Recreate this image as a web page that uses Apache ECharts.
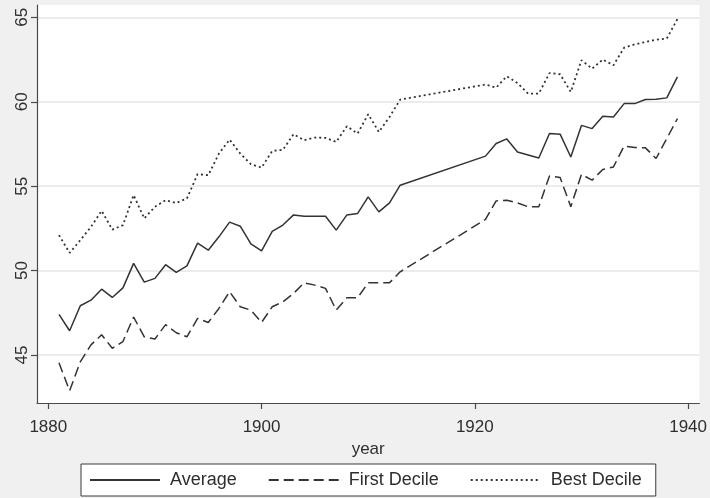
<!DOCTYPE html>
<html>
<head>
<meta charset="utf-8">
<script src="https://cdn.jsdelivr.net/npm/echarts@6/dist/echarts.min.js"></script>
<style>
  html, body { margin: 0; padding: 0; background: #f0f0f0; }
  #chart { width: 710px; height: 498px; }
</style>
</head>
<body>
<div id="chart"></div>
<script>
// Survey years (no observations 1914-1920)
const years = [
  1881, 1882, 1883, 1884, 1885, 1886, 1887, 1888, 1889, 1890,
  1891, 1892, 1893, 1894, 1895, 1896, 1897, 1898, 1899, 1900,
  1901, 1902, 1903, 1904, 1905, 1906, 1907, 1908, 1909, 1910,
  1911, 1912, 1913,
  1921, 1922, 1923, 1924, 1925, 1926, 1927, 1928, 1929, 1930,
  1931, 1932, 1933, 1934, 1935, 1936, 1937, 1938, 1939
];

const average = [
  47.41, 46.44, 47.92, 48.25, 48.90, 48.41, 48.98, 50.43, 49.32, 49.54,
  50.35, 49.89, 50.28, 51.63, 51.21, 52.00, 52.87, 52.63, 51.59, 51.17,
  52.32, 52.70, 53.30, 53.22, 53.22, 53.22, 52.40, 53.30, 53.38, 54.37,
  53.48, 54.01, 55.06,
  56.78, 57.53, 57.80, 57.03, 56.85, 56.67, 58.12, 58.08, 56.73, 58.60,
  58.41, 59.14, 59.10, 59.89, 59.89, 60.13, 60.15, 60.23, 61.47
];

const firstDecile = [
  44.54, 42.89, 44.60, 45.60, 46.20, 45.40, 45.80, 47.25, 46.08, 45.95,
  46.80, 46.32, 46.08, 47.17, 46.93, 47.76, 48.75, 47.86, 47.66, 46.93,
  47.86, 48.15, 48.65, 49.28, 49.14, 48.95, 47.66, 48.39, 48.39, 49.28,
  49.28, 49.28, 49.93,
  53.03, 54.13, 54.17, 54.01, 53.78, 53.78, 55.61, 55.51, 53.78, 55.70,
  55.36, 55.99, 56.14, 57.38, 57.29, 57.27, 56.64, 57.82, 59.00
];

const bestDecile = [
  52.10, 51.05, 51.80, 52.59, 53.54, 52.43, 52.69, 54.47, 53.09, 53.78,
  54.17, 54.01, 54.27, 55.71, 55.65, 56.93, 57.76, 56.93, 56.30, 56.10,
  57.09, 57.15, 58.08, 57.72, 57.88, 57.86, 57.62, 58.55, 58.12, 59.26,
  58.21, 59.10, 60.13,
  61.02, 60.84, 61.51, 61.11, 60.48, 60.48, 61.70, 61.63, 60.58, 62.46,
  61.96, 62.50, 62.16, 63.20, 63.40, 63.54, 63.68, 63.74, 64.90
];

const xTicks = [1880, 1900, 1920, 1940];
const yTicks = [45, 50, 55, 60, 65];

const seriesNames = ['Average', 'First Decile', 'Best Decile'];

const pairs = (vals) => years.map((y, i) => [y, vals[i]]);

const ink = '#333333';
const textColor = '#2e2e2e';
const font = 'Liberation Sans, Arial, sans-serif';

const chart = echarts.init(document.getElementById('chart'), null, { renderer: 'canvas' });

const lineSeries = (name, vals, dash, width) => ({
  name: name,
  type: 'line',
  data: pairs(vals),
  showSymbol: false,
  symbol: 'none',
  silent: true,
  lineStyle: { color: ink, width: width, type: dash },
  itemStyle: { color: ink }
});

chart.setOption({
  animation: false,
  backgroundColor: '#f0f0f0',
  grid: {
    left: 37, top: 5, width: 665, height: 398,
    show: true, backgroundColor: '#ffffff', borderWidth: 0
  },
  xAxis: {
    type: 'value',
    min: 1878.94,
    max: 1941.06,
    name: 'year',
    nameLocation: 'middle',
    nameGap: 33,
    nameTextStyle: { fontFamily: font, fontSize: 17, color: textColor },
    axisLine: { show: true, lineStyle: { color: '#4a4a4a', width: 1.2 } },
    axisTick: { show: true, length: 6, customValues: xTicks, lineStyle: { color: '#4a4a4a', width: 1.2 } },
    axisLabel: {
      customValues: xTicks, margin: 16, fontFamily: font, fontSize: 17, color: textColor,
      formatter: (v) => String(Math.round(v))
    },
    splitLine: { show: false }
  },
  yAxis: {
    type: 'value',
    min: 42.16,
    max: 65.73,
    axisLine: { show: true, lineStyle: { color: '#4a4a4a', width: 1.2 } },
    axisTick: { show: true, length: 6, customValues: yTicks, lineStyle: { color: '#4a4a4a', width: 1.2 } },
    axisLabel: { customValues: yTicks, rotate: 90, margin: 6, fontFamily: font, fontSize: 17, color: textColor },
    splitLine: { show: true, lineStyle: { color: '#e6e6e6', width: 1.5 } }
  },
  legend: {
    left: 81,
    top: 464,
    orient: 'horizontal',
    backgroundColor: '#ffffff',
    borderColor: '#3a3a3a',
    borderWidth: 1,
    borderRadius: 0,
    padding: [7, 14, 7, 8],
    itemGap: 31,
    itemWidth: 70,
    itemHeight: 14,
    selectedMode: false,
    itemStyle: { opacity: 0 },
    textStyle: { fontFamily: font, fontSize: 18, color: textColor, padding: [0, 0, 0, 5], lineHeight: 18 },
    data: seriesNames
  },
  series: [
    lineSeries(seriesNames[0], average, 'solid', 1.5),
    lineSeries(seriesNames[1], firstDecile, [10, 5], 1.5),
    lineSeries(seriesNames[2], bestDecile, [2, 3], 1.8)
  ]
});
</script>
</body>
</html>
